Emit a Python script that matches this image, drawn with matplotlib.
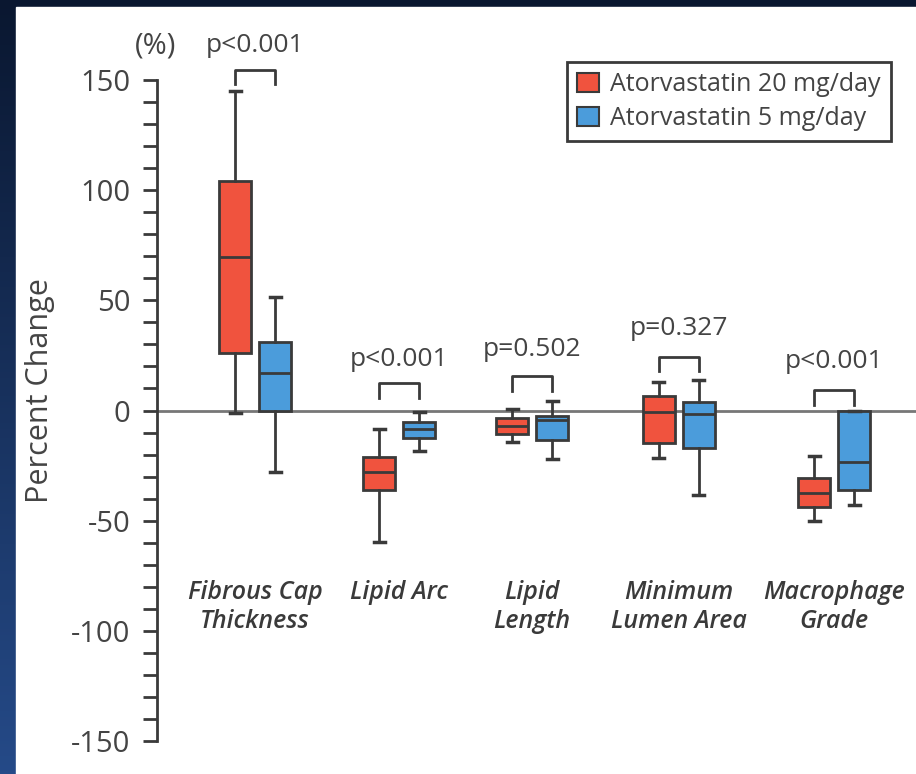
import numpy as np
import matplotlib
matplotlib.use("Agg")
import matplotlib.pyplot as plt
from matplotlib.patches import Patch, Rectangle
from matplotlib.ticker import MultipleLocator

# ---- data (percent change) ----
categories = ["Fibrous Cap\nThickness", "Lipid Arc", "Lipid\nLength",
              "Minimum\nLumen Area", "Macrophage\nGrade"]
series_names = ["Atorvastatin 20 mg/day", "Atorvastatin 5 mg/day"]

# per category: [whislo, q1, median, q3, whishi]
atorva20 = [
    [-1.0, 26.0, 69.5, 104.0, 145.0],
    [-59.5, -36.0, -28.0, -21.0, -8.5],
    [-14.5, -10.5, -7.0, -3.3, 0.9],
    [-21.5, -14.7, -0.6, 6.7, 13.0],
    [-50.0, -44.0, -37.5, -30.5, -20.5],
]
atorva5 = [
    [-28.0, 0.0, 17.0, 31.0, 51.5],
    [-18.5, -12.5, -8.5, -5.2, -0.5],
    [-22.0, -13.5, -4.5, -2.6, 4.2],
    [-38.5, -17.0, -1.4, 3.9, 14.0],
    [-43.0, -36.0, -23.5, 0.0, 0.0],
]
p_labels = ["p<0.001", "p<0.001", "p=0.502", "p=0.327", "p<0.001"]

# ---- layout (pixel-like x units) ----
group_x = [255, 399, 532, 678.5, 834]
offset = 20
box_w = 32
bracket_top = [154.7, 12.3, 15.5, 24.5, 9.1]
bracket_leg = 6.5
p_text_y = [165.5, 23.3, 27.8, 37.4, 22.4]

RED = "#F0533E"
BLUE = "#4B9CDB"
EDGE = "#3a3a3a"
TXT = "#444444"
FONT = ["Open Sans", "DejaVu Sans"]
plt.rcParams['font.family'] = FONT
plt.rcParams['axes.unicode_minus'] = False

W, H = 916, 774
fig = plt.figure(figsize=(W / 100, H / 100), dpi=100)

# background gradient + white panel
bg = fig.add_axes([0, 0, 1, 1], zorder=-10)
grad = np.linspace(0, 1, 256).reshape(-1, 1)
top_c = np.array([0x0A, 0x17, 0x30]) / 255
bot_c = np.array([0x25, 0x4A, 0x88]) / 255
img = top_c[None, None, :] * (1 - grad[..., None]) + bot_c[None, None, :] * grad[..., None]
bg.imshow(img, aspect="auto", extent=[0, 1, 0, 1], origin="upper")
bg.add_patch(Rectangle((16 / W, 0), 1 - 16 / W, 1 - 7 / H, color="white"))
bg.set_xlim(0, 1)
bg.set_ylim(0, 1)
bg.axis("off")

ax = fig.add_axes([157 / W, 33 / H, 1 - 157 / W, (741 - 80) / H])
ax.set_facecolor("none")
ax.set_xlim(157, 916)
ax.set_ylim(-150, 150)

def stats_from(rows):
    out = []
    for r in rows:
        out.append(dict(whislo=r[0], q1=r[1], med=r[2], q3=r[3], whishi=r[4], fliers=[]))
    return out

ax.axhline(0, color="#777777", lw=2, zorder=1)

for data, sign, col in [(atorva20, -1, RED), (atorva5, 1, BLUE)]:
    pos = [g + sign * offset for g in group_x]
    ax.bxp(stats_from(data), positions=pos, widths=box_w, patch_artist=True,
           showfliers=False, manage_ticks=False,
           boxprops=dict(facecolor=col, edgecolor=EDGE, linewidth=2),
           medianprops=dict(color=EDGE, linewidth=2),
           whiskerprops=dict(color=EDGE, linewidth=2),
           capprops=dict(color=EDGE, linewidth=2.5),
           capwidths=11, zorder=3)

# brackets and p-values
for g, top, pl, ty in zip(group_x, bracket_top, p_labels, p_text_y):
    x0, x1 = g - offset, g + offset
    ax.plot([x0, x0, x1, x1], [top - bracket_leg, top, top, top - bracket_leg],
            color=EDGE, lw=2, clip_on=False, zorder=4)
    ax.text(g, ty, pl, ha="center", va="center", fontsize=19, color=TXT, clip_on=False)

ax.text(156, 165.5, "(%)", ha="center", va="center", fontsize=21, color=TXT, clip_on=False)

# category labels
for g, c in zip(group_x, categories):
    ax.text(g, -77, c, ha="center", va="top", fontsize=18, color="#3a3a3a",
            style="italic", fontweight="semibold", linespacing=1.2)

# axes styling
for s in ["top", "right", "bottom"]:
    ax.spines[s].set_visible(False)
ax.spines["left"].set_color(EDGE)
ax.spines["left"].set_linewidth(2)
ax.set_xticks([])
ax.yaxis.set_major_locator(MultipleLocator(50))
ax.yaxis.set_minor_locator(MultipleLocator(10))
ax.tick_params(axis="y", which="both", direction="out", length=10, width=2,
               color=EDGE, labelsize=21, labelcolor=TXT, pad=9)
ax.set_ylabel("Percent Change", fontsize=22, color=TXT)
ax.yaxis.set_label_coords(-0.135, 0.53)

handles = [Patch(facecolor=RED, edgecolor=EDGE, linewidth=1.5),
           Patch(facecolor=BLUE, edgecolor=EDGE, linewidth=1.5)]
leg = fig.legend(handles, series_names, loc="upper right",
                 bbox_to_anchor=(891 / W, 1 - 62 / H), fontsize=18,
                 frameon=True, fancybox=False, framealpha=1,
                 handlelength=0.9, handleheight=0.8, handletextpad=0.45,
                 borderpad=0.4, labelspacing=0.35, borderaxespad=0)
leg.get_frame().set_edgecolor(EDGE)
leg.get_frame().set_linewidth(2)
for t in leg.get_texts():
    t.set_color(TXT)

fig.savefig("out.png", dpi=100)
